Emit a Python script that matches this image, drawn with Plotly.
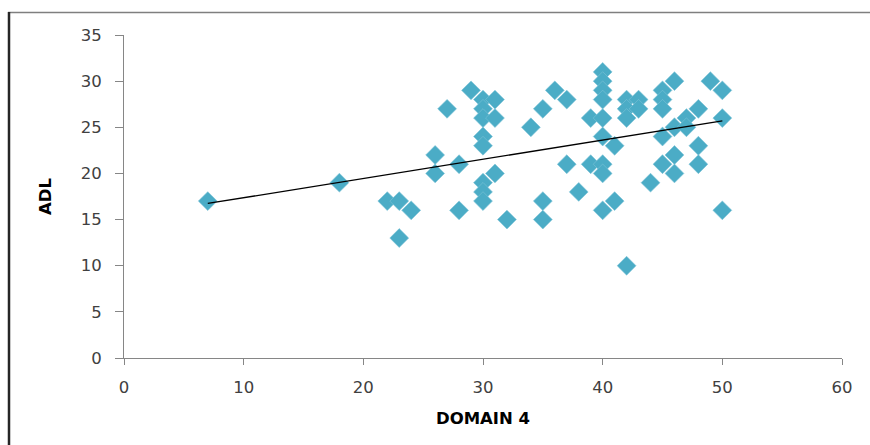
import numpy as np
import plotly.graph_objects as go

# DOMAIN 4 scores and matching ADL scores
domain4 = [7, 18, 22, 23, 24, 23, 26, 26, 27, 28, 28, 29,
           30, 31, 30, 30, 31, 30, 30, 31, 30, 30, 30, 32,
           34, 35, 36, 37, 37, 35, 35, 38, 39, 39,
           40, 40, 40, 40, 40, 40, 40, 40, 40, 41, 41, 42,
           42, 43, 42, 43, 42, 44, 45, 45, 45, 45, 45,
           46, 46, 46, 46, 47, 47, 48, 48, 48, 49, 50, 50, 50]
adl = [17, 19, 17, 17, 16, 13, 22, 20, 27, 21, 16, 29,
       28, 28, 27, 26, 26, 24, 23, 20, 19, 18, 17, 15,
       25, 27, 29, 28, 21, 17, 15, 18, 26, 21,
       31, 30, 29, 28, 26, 24, 21, 20, 16, 23, 17, 10,
       28, 28, 27, 27, 26, 19, 29, 28, 27, 24, 21,
       30, 25, 22, 20, 26, 25, 27, 23, 21, 30, 29, 26, 16]

x_ticks = [0, 10, 20, 30, 40, 50, 60]
y_ticks = [0, 5, 10, 15, 20, 25, 30, 35]

# Linear trend line (least squares) over the observed DOMAIN 4 range
slope, intercept = np.polyfit(domain4, adl, 1)
trend_x = [min(domain4), max(domain4)]
trend_y = [slope * v + intercept for v in trend_x]

W, H = 870, 445
ML, MR, MT, MB = 124, 28, 35, 87

fig = go.Figure()
fig.add_trace(go.Scatter(
    x=domain4, y=adl, mode="markers",
    marker=dict(symbol="diamond", size=14.5, color="#4BACC6",
                line=dict(width=0.6, color="#7cc3d6")),
    showlegend=False, hoverinfo="x+y"))
fig.add_trace(go.Scatter(
    x=trend_x, y=trend_y, mode="lines",
    line=dict(color="#000000", width=1.3),
    showlegend=False, hoverinfo="skip"))


def px_to_paper_x(px):
    return (px - ML) / (W - ML - MR)


def px_to_paper_y(py):
    return (H - MB - py) / (H - MT - MB)


# Outer frame: grey top rule and dark left rule
fig.add_shape(type="line", xref="paper", yref="paper",
              x0=px_to_paper_x(8), x1=px_to_paper_x(W + 2),
              y0=px_to_paper_y(12.5), y1=px_to_paper_y(12.5),
              line=dict(color="#7f7f7f", width=1.5))
fig.add_shape(type="line", xref="paper", yref="paper",
              x0=px_to_paper_x(9), x1=px_to_paper_x(9),
              y0=px_to_paper_y(12), y1=px_to_paper_y(H + 2),
              line=dict(color="#262626", width=2.5))

tick_font = dict(family="DejaVu Sans", size=16.5, color="#404040")
title_font = dict(family="DejaVu Sans", size=16.5, color="#000000")

fig.update_xaxes(
    range=[0, 60], tickvals=x_ticks, ticktext=[str(v) for v in x_ticks],
    showgrid=False, zeroline=False, showline=True, linecolor="#868686",
    linewidth=1, ticks="outside", ticklen=6, tickcolor="#868686",
    tickfont=tick_font, ticklabelstandoff=8,
    title=dict(text="<b>DOMAIN 4</b>", font=title_font, standoff=16))
fig.update_yaxes(
    range=[0, 35], tickvals=y_ticks, ticktext=[str(v) for v in y_ticks],
    showgrid=False, zeroline=False, showline=True, linecolor="#868686",
    linewidth=1, ticks="outside", ticklen=8, tickcolor="#868686",
    tickfont=tick_font, ticklabelstandoff=10,
    title=dict(text="<b>ADL</b>", font=title_font, standoff=24))

fig.update_layout(
    width=W, height=H, autosize=False,
    margin=dict(l=ML, r=MR, t=MT, b=MB),
    paper_bgcolor="#ffffff", plot_bgcolor="#ffffff",
    showlegend=False)

fig.write_html("out.html")
